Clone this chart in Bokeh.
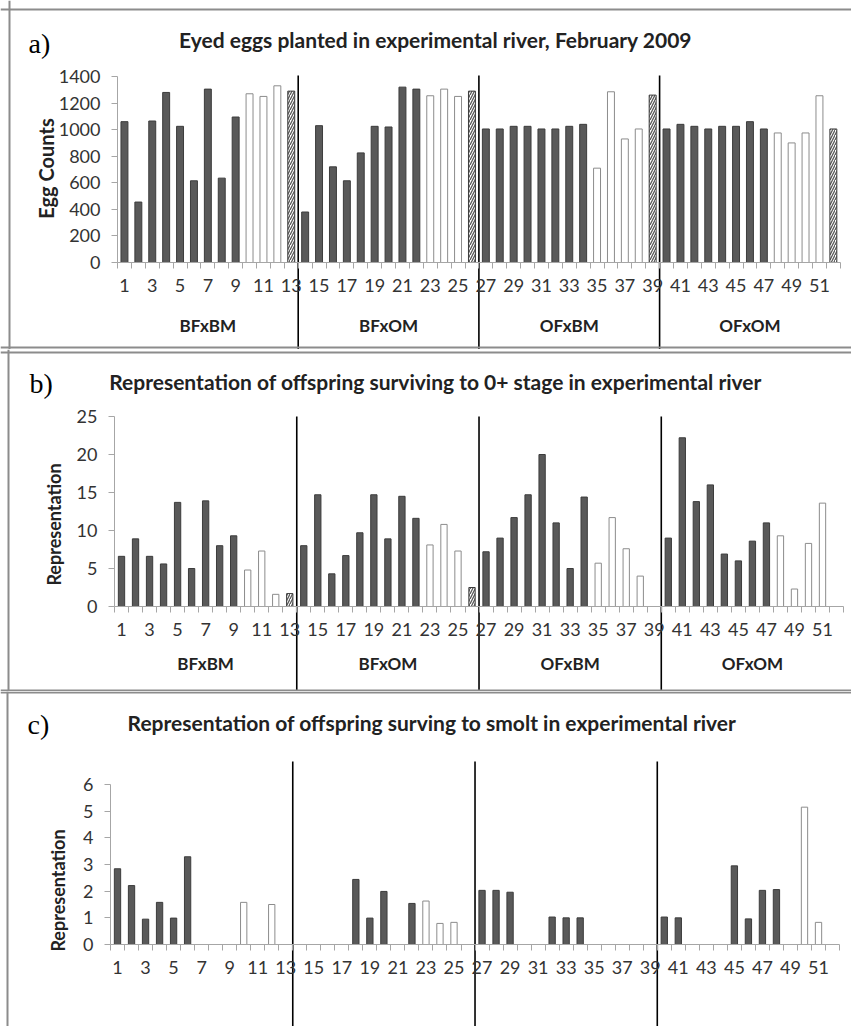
import math
from bokeh.plotting import figure
from bokeh.models import LinearAxis, FixedTicker, Label, Span, ColumnDataSource, Range1d
from bokeh.layouts import column
from bokeh.embed import file_html
from bokeh.resources import INLINE

# ---------------- data ----------------
families = list(range(1, 53))
# d = filled (dark), o = open (white), h = hatched
bar_kind_ab = ["d", "d", "d", "d", "d", "d", "d", "d", "d", "o", "o", "o", "h",
               "d", "d", "d", "d", "d", "d", "d", "d", "d", "o", "o", "o", "h",
               "d", "d", "d", "d", "d", "d", "d", "d", "o", "o", "o", "o", "h",
               "d", "d", "d", "d", "d", "d", "d", "d", "o", "o", "o", "o", "h"]
bar_kind_c = ["d", "d", "d", "d", "d", "d", "d", "d", "d", "o", "o", "o", "h",
              "d", "d", "d", "d", "d", "d", "d", "d", "d", "o", "o", "o", "h",
              "d", "d", "d", "d", "d", "d", "d", "d", "o", "o", "o", "o", "h",
              "d", "d", "d", "d", "d", "d", "d", "d", "d", "o", "o", "o", "h"]

egg_counts = [1060, 455, 1065, 1280, 1025, 615, 1305, 635, 1095, 1270, 1250, 1330, 1290,
              380, 1030, 720, 615, 825, 1025, 1020, 1320, 1305, 1255, 1305, 1250, 1290,
              1005, 1005, 1025, 1025, 1005, 1005, 1025, 1040, 710, 1285, 930, 1005, 1260,
              1005, 1040, 1025, 1005, 1025, 1025, 1060, 1005, 975, 900, 975, 1255, 1005]

rep_zero_plus = [6.6, 8.9, 6.6, 5.6, 13.7, 5.0, 13.9, 8.0, 9.3, 4.8, 7.3, 1.6, 1.7,
                 8.0, 14.7, 4.3, 6.7, 9.7, 14.7, 8.9, 14.5, 11.6, 8.1, 10.8, 7.3, 2.5,
                 7.2, 9.0, 11.7, 14.7, 20.0, 11.0, 5.0, 14.4, 5.7, 11.7, 7.6, 4.0, 0,
                 9.0, 22.2, 13.8, 16.0, 6.9, 6.0, 8.6, 11.0, 9.3, 2.3, 8.3, 13.6, 0]

rep_smolt = [2.84, 2.21, 0.95, 1.58, 0.99, 3.29, 0, 0, 0, 1.58, 0, 1.5, 0,
             0, 0, 0, 0, 2.44, 0.99, 1.99, 0, 1.54, 1.63, 0.79, 0.83, 0,
             2.03, 2.03, 1.96, 0, 0, 1.03, 1.0, 1.0, 0, 0, 0, 0, 0,
             1.03, 1.0, 0, 0, 0, 2.95, 0.96, 2.03, 2.06, 0, 5.15, 0.83, 0]

groups = ["BFxBM", "BFxOM", "OFxBM", "OFxOM"]
group_centers = [7, 20, 33, 46]
group_dividers = [13.5, 26.5, 39.5]

x_tick_labels = [1, 3, 5, 7, 9, 11, 13, 15, 17, 19, 21, 23, 25, 27, 29, 31, 33, 35,
                 37, 39, 41, 43, 45, 47, 49, 51]
y_ticks_a = [0, 200, 400, 600, 800, 1000, 1200, 1400]
y_ticks_b = [0, 5, 10, 15, 20, 25]
y_ticks_c = [0, 1, 2, 3, 4, 5, 6]

titles = ["Eyed eggs planted in experimental river, February 2009",
          "Representation of offspring surviving to 0+ stage in experimental river",
          "Representation of offspring surving to  smolt in experimental river"]
panel_letters = ["a)", "b)", "c)"]
y_titles = ["Egg Counts", "Representation", "Representation"]

# ---------------- styling ----------------
W = 851
SANS = "Lato"
DARK_FILL = "#595959"
DARK_LINE = "#3c3c3c"
OPEN_LINE = "#8c8c8c"
AXIS_COL = "#a6a6a6"
BORDER_COL = "#8c8c8c"
TXT = "#222222"


def make_panel(values, kinds, y_ticks, y_top_tick, title, letter, ytitle, ytitle_size,
               fig_top, height, axis_left, ppx, zero_pg, top_pg, bar_w, div_top_pg,
               show_groups, group_y_pg, border, title_pos, letter_pos, ytitle_pos):
    ppy = (zero_pg - top_pg) / y_top_tick
    xs = 0.5 - axis_left / ppx
    xe = xs + W / ppx
    yt = (zero_pg - fig_top) / ppy
    yb = -(fig_top + height - zero_pg) / ppy

    def X(px):
        return xs + px / ppx

    def Y(py):
        return (zero_pg - py) / ppy

    p = figure(width=W, height=height, x_range=Range1d(xs, xe), y_range=Range1d(yb, yt),
               x_axis_type=None, y_axis_type=None, output_backend="svg",
               toolbar_location=None, min_border=0, outline_line_color=None,
               background_fill_color="white", border_fill_color="white")

    # bars by kind
    for kind in ["d", "o", "h"]:
        xs_k = [f for f, k, v in zip(families, kinds, values) if k == kind and v > 0]
        ys_k = [v for f, k, v in zip(families, kinds, values) if k == kind and v > 0]
        if not xs_k:
            continue
        src = ColumnDataSource(dict(x=xs_k, top=ys_k))
        if kind == "d":
            p.vbar(x="x", top="top", bottom=0, width=bar_w, source=src,
                   fill_color=DARK_FILL, line_color=DARK_LINE, line_width=1)
        elif kind == "o":
            p.vbar(x="x", top="top", bottom=0, width=bar_w, source=src,
                   fill_color="white", line_color=OPEN_LINE, line_width=1)
        else:
            p.vbar(x="x", top="top", bottom=0, width=bar_w, source=src,
                   fill_color="white", line_color=DARK_LINE, line_width=1,
                   hatch_pattern="/", hatch_color="#5a5a5a", hatch_scale=5,
                   hatch_weight=1.3)

    # axes
    xaxis = LinearAxis(fixed_location=0, bounds=(0.5, 52.5),
                       ticker=FixedTicker(ticks=x_tick_labels,
                                          minor_ticks=[i + 0.5 for i in range(0, 53)]))
    xaxis.axis_line_color = AXIS_COL
    xaxis.major_tick_line_color = None
    xaxis.major_tick_out = 0
    xaxis.major_tick_in = 0
    xaxis.minor_tick_line_color = AXIS_COL
    xaxis.minor_tick_out = 6
    xaxis.minor_tick_in = 0
    xaxis.major_label_standoff = 10
    xaxis.major_label_text_font = SANS
    xaxis.major_label_text_font_size = "18px"
    xaxis.major_label_text_color = "#333333"
    p.add_layout(xaxis, "below")

    yaxis = LinearAxis(fixed_location=0.5, bounds=(0, y_top_tick),
                       ticker=FixedTicker(ticks=y_ticks, minor_ticks=[]))
    yaxis.axis_line_color = AXIS_COL
    yaxis.major_tick_line_color = AXIS_COL
    yaxis.major_tick_out = 6
    yaxis.major_tick_in = 0
    yaxis.minor_tick_line_color = None
    yaxis.major_label_standoff = 11
    yaxis.major_label_text_font = SANS
    yaxis.major_label_text_font_size = "18px"
    yaxis.major_label_text_color = "#333333"
    p.add_layout(yaxis, "left")

    # group dividers
    p.segment(x0=group_dividers, x1=group_dividers, y0=[Y(div_top_pg)] * 3,
              y1=[yb - 10 * abs(yb)] * 3, line_color="black", line_width=1.6)

    # texts
    p.add_layout(Label(x=X(title_pos[0]), y=Y(title_pos[1]), text=title,
                       text_font=SANS, text_font_style="bold", text_font_size="21px",
                       text_align="center", text_baseline="middle", text_color=TXT))
    p.add_layout(Label(x=X(letter_pos[0]), y=Y(letter_pos[1]), text=letter,
                       text_font="Liberation Serif", text_font_size="28px",
                       text_align="left", text_baseline="middle", text_color="black"))
    p.add_layout(Label(x=X(ytitle_pos[0]), y=Y(ytitle_pos[1]), text=ytitle,
                       text_font=SANS, text_font_style="bold",
                       text_font_size=ytitle_size,
                       text_align="center", text_baseline="middle", text_color=TXT,
                       angle=math.pi / 2))
    if show_groups:
        for g, c in zip(groups, group_centers):
            p.add_layout(Label(x=c, y=Y(group_y_pg), text=g, text_font=SANS,
                               text_font_style="bold", text_font_size="17px",
                               text_align="center", text_baseline="middle",
                               text_color=TXT))

    # panel border: left, top, bottom (page coordinates)
    left_pg, top_pg_b, bottom_pg = border
    p.add_layout(Span(location=X(left_pg), dimension="height",
                      line_color=BORDER_COL, line_width=2))
    p.add_layout(Span(location=Y(top_pg_b), dimension="width",
                      line_color=BORDER_COL, line_width=2))
    if bottom_pg is not None:
        p.add_layout(Span(location=Y(bottom_pg), dimension="width",
                          line_color=BORDER_COL, line_width=2))
    return p


pa = make_panel(egg_counts, bar_kind_ab, y_ticks_a, 1400, titles[0], panel_letters[0],
                y_titles[0], "20px", fig_top=0, height=349, axis_left=117, ppx=13.9,
                zero_pg=262, top_pg=76, bar_w=0.5, div_top_pg=75, show_groups=True,
                group_y_pg=325, border=(9, 9, 347), title_pos=(435, 39),
                letter_pos=(28, 43), ytitle_pos=(45, 168))
pb = make_panel(rep_zero_plus, bar_kind_ab, y_ticks_b, 25, titles[1], panel_letters[1],
                y_titles[1], "18px", fig_top=349, height=342, axis_left=114, ppx=14.02,
                zero_pg=606, top_pg=416, bar_w=0.45, div_top_pg=416, show_groups=True,
                group_y_pg=663, border=(8, 352, 690), title_pos=(435, 381),
                letter_pos=(29, 383), ytitle_pos=(53, 524))
pc = make_panel(rep_smolt, bar_kind_c, y_ticks_c, 6, titles[2], panel_letters[2],
                y_titles[2], "18px", fig_top=691, height=335, axis_left=110, ppx=14.02,
                zero_pg=944, top_pg=784, bar_w=0.45, div_top_pg=761, show_groups=False,
                group_y_pg=0, border=(7, 692, None), title_pos=(434, 722),
                letter_pos=(27, 724), ytitle_pos=(57, 890))

layout = column(pa, pb, pc, spacing=0)
open("out.html", "w").write(file_html(layout, INLINE))
